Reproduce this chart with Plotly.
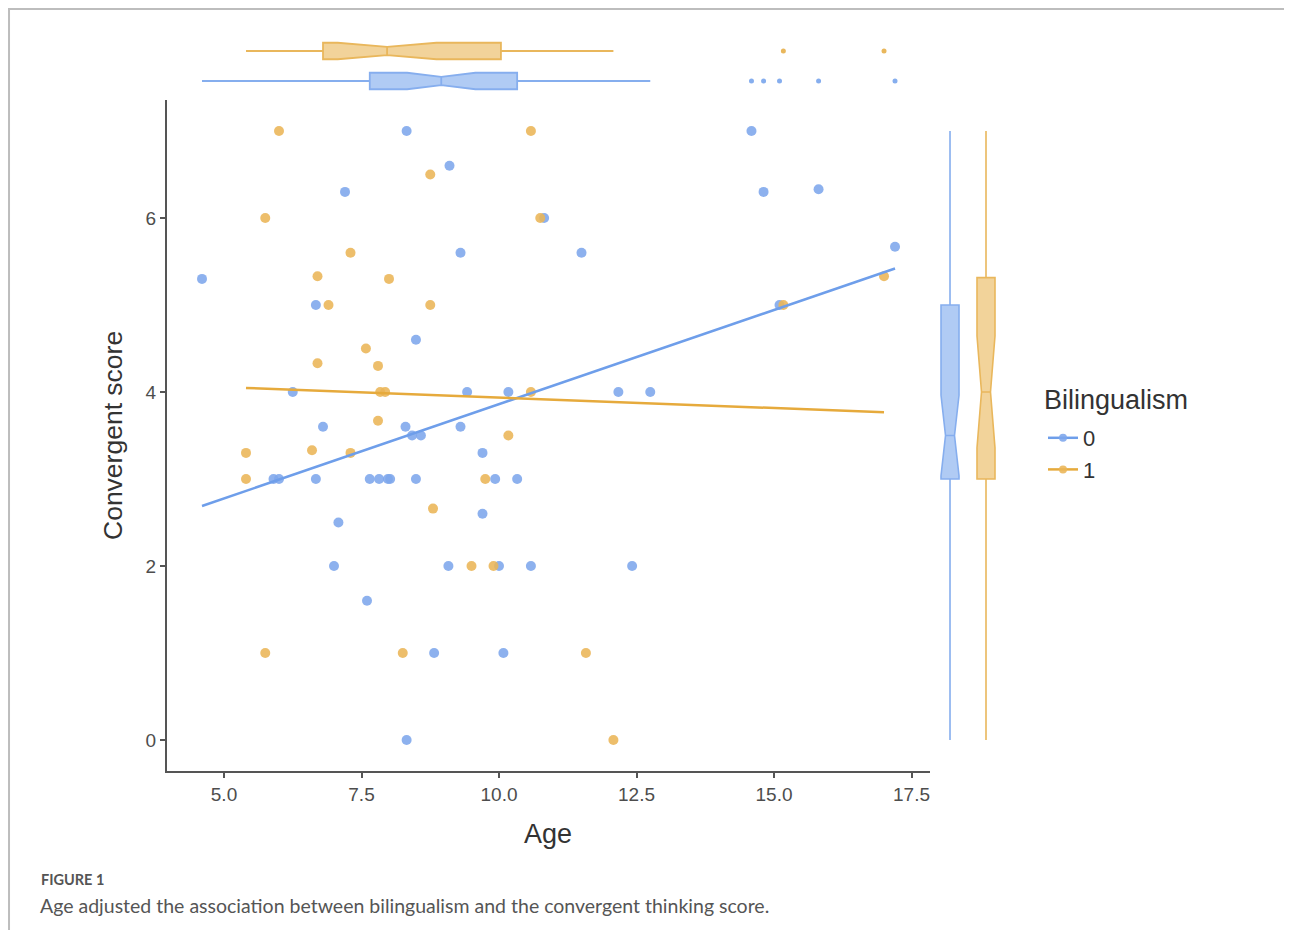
import numpy as np
import plotly.graph_objects as go

# ---------------- data ----------------
groups = ["0", "1"]
age_0 = [4.6, 5.9, 6.0, 6.25, 6.67, 6.67, 6.8, 7.0, 7.08, 7.2, 7.6, 7.65, 7.82, 7.98, 8.02,
         8.3, 8.32, 8.32, 8.42, 8.49, 8.49, 8.58, 8.82, 9.08, 9.1, 9.3, 9.3, 9.42, 9.7, 9.7,
         9.93, 10.0, 10.08, 10.17, 10.33, 10.58, 10.82, 11.5, 12.17, 12.42, 12.75, 14.59,
         14.81, 15.1, 15.81, 17.2]
score_0 = [5.3, 3.0, 3.0, 4.0, 5.0, 3.0, 3.6, 2.0, 2.5, 6.3, 1.6, 3.0, 3.0, 3.0, 3.0,
           3.6, 7.0, 0.0, 3.5, 4.6, 3.0, 3.5, 1.0, 2.0, 6.6, 5.6, 3.6, 4.0, 3.3, 2.6,
           3.0, 2.0, 1.0, 4.0, 3.0, 2.0, 6.0, 5.6, 4.0, 2.0, 4.0, 7.0,
           6.3, 5.0, 6.33, 5.67]
age_1 = [5.4, 5.4, 5.75, 5.75, 6.0, 6.6, 6.7, 6.7, 6.9, 7.3, 7.3, 7.58, 7.8, 7.8, 7.84, 7.93,
         8.0, 8.25, 8.75, 8.75, 8.8, 9.5, 9.75, 9.9, 10.17, 10.58, 10.58, 10.75, 11.58, 12.08,
         15.17, 17.0]
score_1 = [3.3, 3.0, 6.0, 1.0, 7.0, 3.33, 5.33, 4.33, 5.0, 5.6, 3.3, 4.5, 4.3, 3.67, 4.0, 4.0,
           5.3, 1.0, 6.5, 5.0, 2.66, 2.0, 3.0, 2.0, 3.5, 7.0, 4.0, 6.0, 1.0, 0.0,
           5.0, 5.33]
x_ticks = [5.0, 7.5, 10.0, 12.5, 15.0, 17.5]
y_ticks = [0, 2, 4, 6]

# ---------------- styling ----------------
W, H = 1283, 922
OFF = 8  # body margin of the html page


def px_x(p):
    return (p - OFF) / W


def px_y(p):
    return 1 - (p - OFF) / H


pt_col = {"0": "rgba(125,166,236,0.88)", "1": "rgba(234,181,86,0.88)"}
line_col = {"0": "#6E9EEA", "1": "#E6AA3C"}
box_line = {"0": "#86AEEE", "1": "#E9B75C"}
box_fill = {"0": "rgba(150,185,240,0.75)", "1": "rgba(237,196,120,0.75)"}
FONT = "Liberation Sans, Arial, sans-serif"
CAP_FONT = "Lato, Open Sans, sans-serif"
AX = "#555555"

data = {"0": (age_0, score_0), "1": (age_1, score_1)}

fig = go.Figure()

# scatter points
for g in groups:
    a, s = data[g]
    fig.add_trace(go.Scatter(x=a, y=s, mode="markers", xaxis="x", yaxis="y",
                             marker=dict(size=10, color=pt_col[g]),
                             showlegend=False, hoverinfo="x+y"))

# regression lines (least squares fit on each group)
for g in groups:
    a, s = data[g]
    a = np.asarray(a)
    s = np.asarray(s)
    k, b = np.polyfit(a, s, 1)
    xs = np.array([a.min(), a.max()])
    fig.add_trace(go.Scatter(x=xs, y=k * xs + b, mode="lines", xaxis="x", yaxis="y",
                             line=dict(color=line_col[g], width=2.5),
                             showlegend=False, hoverinfo="skip"))

# top marginal boxes (age)
pos = {"0": 0, "1": 1}
for g in groups:
    a, _ = data[g]
    fig.add_trace(go.Box(x=a, y0=pos[g], orientation="h", xaxis="x2", yaxis="y2",
                         notched=True, notchwidth=0.25, width=0.55, whiskerwidth=0,
                         fillcolor=box_fill[g], line=dict(color=box_line[g], width=1.8),
                         boxpoints="outliers",
                         marker=dict(color=box_line[g], size=5, line=dict(width=0)),
                         showlegend=False, quartilemethod="linear"))

# right marginal boxes (score)
for g in groups:
    _, s = data[g]
    fig.add_trace(go.Box(y=s, x0=pos[g], orientation="v", xaxis="x3", yaxis="y3",
                         notched=True, notchwidth=0.25, width=0.5, whiskerwidth=0,
                         fillcolor=box_fill[g], line=dict(color=box_line[g], width=1.6),
                         boxpoints="outliers",
                         marker=dict(color=box_line[g], size=5, line=dict(width=0)),
                         showlegend=False, quartilemethod="linear"))

# legend entries
for g in groups:
    fig.add_trace(go.Scatter(x=[None], y=[None], mode="lines+markers", name=g,
                             xaxis="x", yaxis="y",
                             line=dict(color=line_col[g], width=2.5),
                             marker=dict(color=pt_col[g], size=8)))

x_range = [3.9636, 17.836]
y_range = [-0.356, 7.356]
main_xdom = [px_x(167), px_x(930)]
main_ydom = [px_y(771), px_y(100)]

fig.update_layout(
    width=W, height=H,
    margin=dict(l=0, r=0, t=0, b=0),
    paper_bgcolor="white", plot_bgcolor="white",
    font=dict(family=FONT, color="#4d4d4d"),
    xaxis=dict(domain=main_xdom, range=x_range, anchor="y",
               tickvals=x_ticks, ticktext=[f"{v:.1f}" for v in x_ticks],
               showline=True, linecolor=AX, linewidth=2, mirror=False,
               ticks="outside", ticklen=5, tickwidth=1.5, tickcolor=AX,
               tickfont=dict(size=19, color="#4d4d4d", family=FONT),
               showgrid=False, zeroline=False),
    yaxis=dict(domain=main_ydom, range=y_range, anchor="x",
               tickvals=y_ticks,
               showline=True, linecolor=AX, linewidth=2,
               ticks="outside", ticklen=5, tickwidth=1.5, tickcolor=AX,
               tickfont=dict(size=19, color="#4d4d4d", family=FONT),
               showgrid=False, zeroline=False),
    xaxis2=dict(domain=main_xdom, range=x_range, anchor="y2", visible=False),
    yaxis2=dict(domain=[px_y(100), px_y(30)], range=[-0.633, 1.7], anchor="x2",
                visible=False),
    xaxis3=dict(domain=[px_x(930), px_x(1010)], range=[-0.556, 1.667], anchor="y3",
                visible=False),
    yaxis3=dict(domain=main_ydom, range=y_range, anchor="x3", visible=False),
    legend=dict(x=px_x(1043), y=px_y(417), xanchor="left", yanchor="top",
                font=dict(size=22, color="#333333", family=FONT),
                bgcolor="rgba(0,0,0,0)", itemwidth=30),
    annotations=[
        dict(text="Bilingualism", x=px_x(1042), y=px_y(400), xref="paper", yref="paper",
             xanchor="left", yanchor="middle", showarrow=False,
             font=dict(size=27, color="#333333", family=FONT)),
        dict(text="Age", x=px_x(548), y=px_y(834), xref="paper", yref="paper",
             xanchor="center", yanchor="middle",
             showarrow=False, font=dict(size=27, color="#333333", family=FONT)),
        dict(text="Convergent score", x=px_x(113), y=px_y(436), xref="paper", yref="paper",
             xanchor="center", yanchor="middle",
             showarrow=False, textangle=-90, font=dict(size=26.5, color="#333333", family=FONT)),
        dict(text="<b>FIGURE 1</b>", x=px_x(39), y=px_y(879), xref="paper", yref="paper",
             xanchor="left", yanchor="middle", showarrow=False,
             font=dict(size=14.5, color="#555555", family=CAP_FONT)),
        dict(text="Age adjusted the association between bilingualism and the convergent thinking score.",
             x=px_x(38), y=px_y(905), xref="paper", yref="paper", xanchor="left",
             yanchor="middle", showarrow=False,
             font=dict(size=19.5, color="#555555", family=CAP_FONT)),
    ],
    shapes=[dict(type="rect", xref="paper", yref="paper", x0=0.0008, x1=0.9992,
                 y0=-0.1, y1=0.9989, line=dict(color="#bdbdbd", width=2))],
)

fig.write_html("out.html")
